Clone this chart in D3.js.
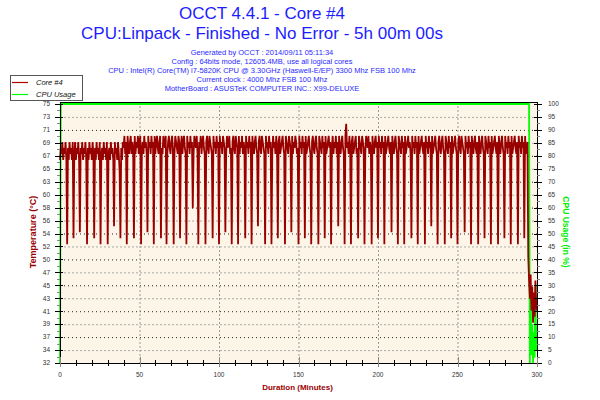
<!DOCTYPE html>
<html><head><meta charset="utf-8">
<script src="https://cdn.jsdelivr.net/npm/d3@7"></script>
<style>body{margin:0;background:#fff}svg{display:block}</style>
</head><body>
<svg id="c" width="600" height="400"></svg>
<script>
// ---------------- data ----------------
const titleLines = ["OCCT 4.4.1 - Core #4", "CPU:Linpack - Finished - No Error - 5h 00m 00s"];
const infoLines = [
  "Generated by OCCT : 2014/09/11 05:11:34",
  "Config : 64bits mode, 12605.4MB, use all logical cores",
  "CPU : Intel(R) Core(TM) i7-5820K CPU @ 3.30GHz (Haswell-E/EP) 3300 Mhz FSB 100 Mhz",
  "Current clock : 4000 Mhz FSB 100 Mhz",
  "MotherBoard : ASUSTeK COMPUTER INC.: X99-DELUXE"
];
const seriesNames = ["Core #4", "CPU Usage"];
const tempTickLabels = ["32","34","37","39","41","43","45","47","50","52","54","56","58","60","63","65","67","69","71","73","75"];
const tempRange = [32.3, 75.3];
const cpuTickLabels = ["0","5","10","15","20","25","30","35","40","45","50","55","60","65","70","75","80","85","90","95","100"];
const durationTicks = [0, 50, 100, 150, 200, 250, 300];
const durationMinorTicks = [0,10,20,30,40,50,60,70,80,90,100,110,120,130,140,150,160,170,180,190,200,210,220,230,240,250,260,270,280,290,300];
const sampleStepMinutes = 0.5;
// Core #4 temperature (°C), one reading every 0.5 minute, 0 .. 300 min
const coreTemp = [
66,68,67,69,66,68,67,69,66,52,68,66,69,67,68,66,69,53,67,69,
66,68,67,69,66,54,68,67,69,66,68,67,69,66,52,68,66,69,67,68,
66,69,67,53,68,66,69,67,68,66,69,52,67,68,66,69,67,68,66,69,
52,67,68,66,69,67,68,66,55,69,67,68,66,69,67,64,53,68,66,69,
68,70,67,69,52,70,68,67,69,70,67,69,68,53,70,67,69,68,70,67,
69,70,52,68,69,67,70,68,69,67,54,70,68,69,67,70,68,69,52,70,
67,69,70,68,67,69,70,53,68,67,70,69,68,70,52,67,69,70,68,67,
69,70,68,52,67,70,69,68,67,70,69,53,68,70,67,69,70,68,67,52,
70,68,69,67,70,68,69,58,67,70,69,68,70,67,52,69,68,70,67,69,
70,68,67,52,69,70,68,67,70,69,68,67,53,70,68,69,67,70,68,69,
52,70,68,69,67,70,69,68,54,67,70,68,69,70,67,68,52,69,70,68,
67,70,69,68,52,70,67,69,68,70,67,69,68,53,70,68,69,67,70,68,
69,52,70,68,67,69,70,68,67,55,69,70,68,67,70,69,68,67,52,70,
68,69,67,70,68,69,52,67,70,68,69,67,70,68,53,69,70,67,68,69,
70,68,67,52,70,69,68,67,70,69,68,54,70,67,69,68,70,69,67,68,
52,70,68,69,67,70,68,69,53,70,67,68,69,70,68,67,52,69,70,68,
67,69,70,68,67,52,70,69,68,67,70,68,69,53,70,67,68,69,70,68,
69,52,68,70,67,69,68,70,67,69,55,70,68,67,69,70,68,67,52,70,
72,68,69,67,70,68,52,69,70,67,68,69,70,67,68,53,70,69,68,67,
70,69,68,52,67,70,69,68,70,67,69,68,52,70,68,67,69,70,68,69,
53,70,68,69,67,70,68,69,52,70,67,68,69,70,68,67,69,54,70,68,
67,69,70,68,67,52,70,69,68,67,70,68,69,52,70,67,68,69,70,68,
69,67,53,70,68,69,67,70,68,69,52,70,67,68,69,70,68,67,69,52,
70,68,69,67,70,68,69,55,70,67,68,69,70,68,67,52,69,70,68,67,
69,70,68,67,52,70,69,68,67,70,68,69,53,70,67,68,69,70,68,67,
52,69,70,68,67,70,69,68,67,54,70,68,69,67,70,68,69,52,70,68,
67,69,70,68,67,69,52,70,68,67,69,70,68,67,53,70,69,68,67,70,
68,69,52,70,67,68,69,70,68,67,69,52,70,68,67,69,70,68,67,53,
70,68,69,67,70,68,69,52,70,67,68,69,70,68,67,69,52,70,68,69,
67,70,68,69,53,70,67,68,69,50,46,43,47,41,45,39,44,40,46,42,
41
];
// CPU usage (%) break points: minutes and values
const cpuTime  = [0, 0.5, 295, 295.5, 296, 296.5, 297, 297.5, 298, 298.5, 299, 299.5, 300];
const cpuUsage = [0, 100, 100, 0, 28, 3, 15, 0, 12, 2, 30, 5, 14];

// ---------------- drawing ----------------
const svg = d3.select("#c");
const L = 60, R = 537, T = 104, B = 363, FT = 102;
const x = d3.scaleLinear().domain([0, 300]).range([L, R]);
const yT = d3.scaleLinear().domain(tempRange).range([B, T]);
const yC = d3.scaleLinear().domain([0, 100]).range([B, T]);
const tempTickVals = tempTickLabels.map((_, i) => tempRange[0] + i * (tempRange[1] - tempRange[0]) / (tempTickLabels.length - 1));
const cpuTickVals = cpuTickLabels.map(Number);

// titles
const blue = "#1c1cff";
svg.selectAll("text.title").data(titleLines).join("text")
  .attr("x", 262).attr("y", (d, i) => 19 + i * 20)
  .attr("text-anchor", "middle").attr("fill", blue)
  .style("font-family", "Liberation Sans, Arial, sans-serif").style("font-size", "17px")
  .text(d => d);
svg.selectAll("text.info").data(infoLines).join("text")
  .attr("x", 262).attr("y", (d, i) => 54.5 + i * 9)
  .attr("text-anchor", "middle").attr("fill", "#2a2aff")
  .style("font-family", "Liberation Sans, Arial, sans-serif").style("font-size", "7.5px")
  .text(d => d);

// plot background
svg.append("rect").attr("x", L).attr("y", FT).attr("width", R - L).attr("height", B - FT).attr("fill", "#fdf6e8");

// grid
const g = svg.append("g");
g.selectAll("line.h").data(cpuTickVals.filter(v => v > 0 && v < 100)).join("line")
  .attr("x1", L).attr("x2", R).attr("y1", d => yC(d) + 0.5).attr("y2", d => yC(d) + 0.5)
  .attr("stroke", (d) => (d / 5) % 2 === 0 ? "#222" : "#aaa")
  .attr("stroke-width", 1)
  .attr("stroke-dasharray", (d) => (d / 5) % 2 === 0 ? "1,3" : "2,2");
g.selectAll("line.v").data(durationTicks.filter(v => v > 0 && v < 300)).join("line")
  .attr("x1", d => x(d) + 0.5).attr("x2", d => x(d) + 0.5).attr("y1", FT).attr("y2", B)
  .attr("stroke", "#999").attr("stroke-dasharray", "2,2");

// series
const cpuPts = cpuTime.map((t, i) => [t, cpuUsage[i]]);
svg.append("path").datum(cpuPts)
  .attr("d", d3.line().x(d => x(d[0])).y(d => yC(d[1])))
  .attr("fill", "none").attr("stroke", "#00ff00").attr("stroke-width", 1.8);
const tempPts = coreTemp.map((v, i) => [i * sampleStepMinutes, v]);
svg.append("path").datum(tempPts)
  .attr("d", d3.line().x(d => x(d[0])).y(d => yT(d[1])))
  .attr("fill", "none").attr("stroke", "#990000").attr("stroke-width", 1.8)
  .attr("stroke-linejoin", "miter").attr("stroke-miterlimit", 2);

// frame/axes
const ax = svg.append("g").attr("stroke", "#000").attr("shape-rendering", "crispEdges");
ax.append("line").attr("x1", L).attr("x2", L).attr("y1", FT).attr("y2", B);
ax.append("line").attr("x1", R).attr("x2", R).attr("y1", FT).attr("y2", B);
ax.append("line").attr("x1", L).attr("x2", R).attr("y1", FT).attr("y2", FT);
ax.append("line").attr("x1", L).attr("x2", R).attr("y1", B).attr("y2", B);

// left axis ticks
const tickFont = "Liberation Sans, Arial, sans-serif";
ax.selectAll("line.lt").data(tempTickVals).join("line")
  .attr("x1", L - 5).attr("x2", L + 3).attr("y1", d => Math.round(yT(d))).attr("y2", d => Math.round(yT(d)));
ax.selectAll("line.lm").data(tempTickVals.slice(1)).join("line")
  .attr("x1", L - 3).attr("x2", L).attr("stroke", "#888")
  .attr("y1", (d, i) => Math.round((yT(d) + yT(tempTickVals[i])) / 2))
  .attr("y2", (d, i) => Math.round((yT(d) + yT(tempTickVals[i])) / 2));
svg.selectAll("text.lt").data(tempTickVals).join("text")
  .attr("x", 50).attr("y", d => yT(d) + 2.3).attr("text-anchor", "end")
  .attr("fill", "#333").style("font-family", tickFont).style("font-size", "6.5px")
  .text((d, i) => tempTickLabels[i]);

// right axis ticks
ax.selectAll("line.rt").data(cpuTickVals).join("line")
  .attr("x1", R - 3).attr("x2", R + 5).attr("y1", d => Math.round(yC(d))).attr("y2", d => Math.round(yC(d)));
ax.selectAll("line.rm").data(cpuTickVals.slice(1)).join("line")
  .attr("x1", R).attr("x2", R + 3).attr("stroke", "#888")
  .attr("y1", d => Math.round(yC(d - 2.5))).attr("y2", d => Math.round(yC(d - 2.5)));
svg.selectAll("text.rt").data(cpuTickVals).join("text")
  .attr("x", 548).attr("y", d => yC(d) + 2.3)
  .attr("fill", "#333").style("font-family", tickFont).style("font-size", "6.5px")
  .text((d, i) => cpuTickLabels[i]);

// bottom axis ticks
ax.selectAll("line.bt").data(durationMinorTicks).join("line")
  .attr("x1", d => Math.round(x(d))).attr("x2", d => Math.round(x(d))).attr("y1", B - 3).attr("y2", B + 3);
ax.selectAll("line.bM").data(durationTicks).join("line")
  .attr("x1", d => Math.round(x(d))).attr("x2", d => Math.round(x(d))).attr("y1", B - 6).attr("y2", B + 4).attr("stroke", "#888");
svg.selectAll("text.bt").data(durationTicks).join("text")
  .attr("x", d => x(d)).attr("y", 376.5).attr("text-anchor", "middle")
  .attr("fill", "#333").style("font-family", tickFont).style("font-size", "6.5px")
  .text(d => d);

// axis titles
svg.append("text").attr("transform", "translate(36,232) rotate(-90)").attr("text-anchor", "middle")
  .attr("fill", "#990000").style("font-family", tickFont).style("font-size", "9px").style("font-weight", "bold")
  .text("Temperature (°C)");
svg.append("text").attr("transform", "translate(563,232) rotate(90)").attr("text-anchor", "middle")
  .attr("fill", "#00ee00").style("font-family", tickFont).style("font-size", "8.5px").style("font-weight", "bold")
  .text("CPU Usage (in %)");
svg.append("text").attr("x", 297.5).attr("y", 390).attr("text-anchor", "middle")
  .attr("fill", "#990000").style("font-family", tickFont).style("font-size", "8px").style("font-weight", "bold")
  .text("Duration (Minutes)");

// legend
const lg = svg.append("g");
lg.append("rect").attr("x", 10.5).attr("y", 75.5).attr("width", 72).attr("height", 25)
  .attr("fill", "#fff").attr("stroke", "#555");
const legendColors = ["#aa0000", "#00ff00"];
seriesNames.forEach((n, i) => {
  lg.append("line").attr("x1", 12).attr("x2", 28).attr("y1", 82.5 + i * 12).attr("y2", 82.5 + i * 12)
    .attr("stroke", legendColors[i]).attr("stroke-width", 1.2);
  lg.append("text").attr("x", 36).attr("y", 85 + i * 12).attr("fill", "#111")
    .style("font-family", tickFont).style("font-size", "7.5px").style("font-style", "italic").text(n);
});
</script>
</body></html>
